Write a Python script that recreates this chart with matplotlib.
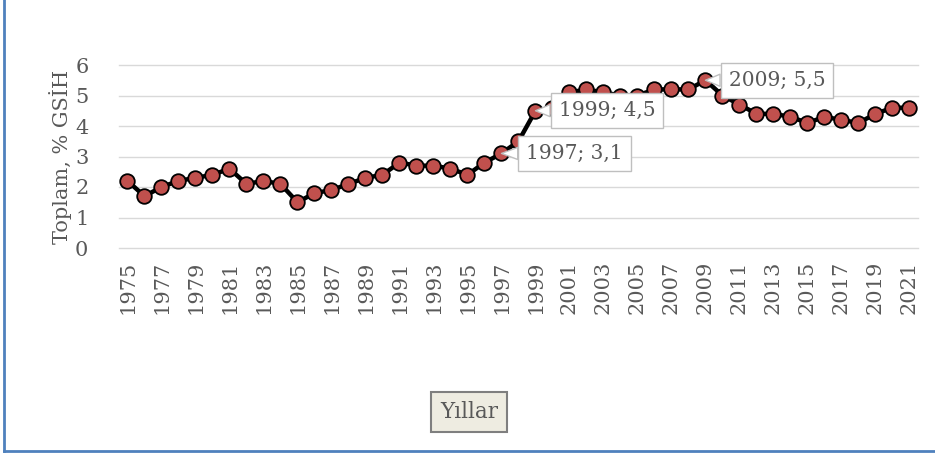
import matplotlib.pyplot as plt
from matplotlib.lines import Line2D
import numpy as np

yillar = list(range(1975, 2022))
toplam = [2.2, 1.7, 2.0, 2.2, 2.3, 2.4, 2.6, 2.1, 2.2, 2.1,
          1.5, 1.8, 1.9, 2.1, 2.3, 2.4, 2.8, 2.7, 2.7, 2.6,
          2.4, 2.8, 3.1, 3.5, 4.5, 4.6, 5.1, 5.2, 5.1, 5.0,
          5.0, 5.2, 5.2, 5.2, 5.5, 5.0, 4.7, 4.4, 4.4, 4.3,
          4.1, 4.3, 4.2, 4.1, 4.4, 4.6, 4.6]
etiket_yillari = [1997, 1999, 2009]
etiket_konum = [(26.3, 3.1), (28.2, 4.52), (38.2, 5.5)]

plt.rcParams['font.family'] = 'DejaVu Serif'
gri = '#595959'

fig = plt.figure(figsize=(9.35, 4.57), dpi=100)
ax = fig.add_axes([119/935, 1-248/457, 799/935, 183/457])

x = np.arange(len(yillar))
ax.plot(x, toplam, color='black', linewidth=3.2, marker='o', markersize=10.5,
        markerfacecolor='#C0504D', markeredgecolor='black', markeredgewidth=1.3,
        zorder=3)

# veri etiketleri
for yil, (tx, ty) in zip(etiket_yillari, etiket_konum):
    i = yillar.index(yil)
    deger = str(toplam[i]).replace('.', ',')
    ax.annotate(f'{yil}; {deger}', xy=(i, toplam[i]), xytext=(tx, ty),
                ha='center', va='center', fontsize=14.5, color=gri, zorder=5,
                annotation_clip=False,
                bbox=dict(boxstyle='square,pad=0.4', fc='white', ec='#BFBFBF', lw=1),
                arrowprops=dict(arrowstyle='wedge,tail_width=0.6', fc='white',
                                ec='#BFBFBF', lw=1, shrinkA=0, shrinkB=0))

ax.set_xlim(-0.5, len(yillar) - 0.5)
ax.set_ylim(0, 6)
ax.set_yticks(range(0, 7))
ax.set_xticks(x[::2])
ax.set_xticklabels([str(y) for y in yillar[::2]], rotation=90)
ax.tick_params(axis='both', length=0, labelsize=15, labelcolor=gri)
ax.tick_params(axis='y', pad=22)
ax.tick_params(axis='x', pad=9)
ax.grid(axis='y', color='#D9D9D9', linewidth=1)
for gl in ax.get_ygridlines():
    gl.set_clip_on(False)
ax.set_axisbelow(True)
for s in ax.spines.values():
    s.set_visible(False)

ax.set_ylabel('Toplam, % GSİH', fontsize=15, color=gri, labelpad=2)

fig.text(469/935, 1-412/457, 'Yıllar', ha='center', va='center', fontsize=15.5,
         color=gri, bbox=dict(boxstyle='square,pad=0.4', fc='#EEECE1',
                              ec='#7F7F7F', lw=1.5))

# çerçeve (sol ve alt)
fig.add_artist(Line2D([4/935, 4/935], [1-451/457, 1], color='#4F81BD', lw=2))
fig.add_artist(Line2D([4/935, 1], [1-451/457, 1-451/457], color='#4F81BD', lw=2))

fig.savefig('out.png', dpi=100)
